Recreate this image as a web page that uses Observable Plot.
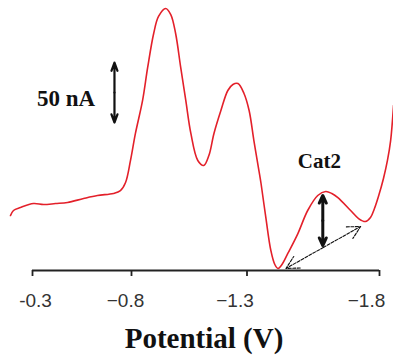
<!DOCTYPE html>
<html><head><meta charset="utf-8">
<script src="https://cdn.jsdelivr.net/npm/d3@7"></script>
<script src="https://cdn.jsdelivr.net/npm/@observablehq/plot@0.6"></script>
<style>body{margin:0;background:#fff;} svg{display:block;}</style>
</head><body><div id="chart"></div>
<script>
// Potential (V) and current (nA, relative to baseline)
const potential = [-0.189,-0.204,-0.239,-0.305,-0.356,-0.416,-0.477,-0.558,-0.628,-0.709,-0.744,-0.770,-0.795,-0.817,-0.848,-0.870,-0.896,-0.917,-0.948,-0.970,-0.991,-1.013,-1.035,-1.057,-1.087,-1.113,-1.135,-1.157,-1.187,-1.217,-1.239,-1.261,-1.287,-1.308,-1.326,-1.345,-1.353,-1.371,-1.390,-1.405,-1.417,-1.432,-1.454,-1.492,-1.529,-1.567,-1.597,-1.620,-1.643,-1.691,-1.721,-1.747,-1.766,-1.781,-1.796,-1.815,-1.830,-1.842,-1.853];
const current   = [45.8,50,52.5,55.8,55,55.8,56.7,60,62.5,64.2,66.5,73.3,91.7,114.2,141.7,169.2,197.5,211.7,218.3,213.3,197.5,169.2,141.7,114.2,91.7,87.5,95.8,114.2,133.3,150,155,155.8,147.5,133.3,108.3,83.3,72.5,44.2,16.7,5,1.7,5,14.2,30.8,50,62.5,65.8,64.2,60.8,50,43.3,40.8,44.2,51.7,61.7,76.7,91.7,108.3,137.5];

const tickValues = [-0.3, -0.8, -1.3, -1.8];
const tickLabels = ["-0.3", "\u22120.8", "\u22121.3", "\u22121.8"];
const axisTitle = "Potential (V)";

// annotations (data coordinates)
const scaleBarPotential = -0.714;
const scaleBarCurrents = [123.3, 173.3];   // 50 nA
const scaleBarLabel = {text: "50 nA", potential: -0.469, current: 143.3};
const cat2Label = {text: "Cat2", potential: -1.573, current: 90.8};
const cat2ArrowPotential = -1.586;
const cat2ArrowCurrents = [20.8, 62.5];
const baseArrowPotentials = [-1.447, -1.729];
const baseArrowCurrents = [1.7, 36.7];

const curve = potential.map((p, i) => ({p, c: current[i]}));
const labelNudge = [3, -6, -12, -13];

function halfArrows(x1, y1, x2, y2) {
  const mx = (x1 + x2) / 2, my = (y1 + y2) / 2;
  return [{x1: mx, y1: my, x2: x1, y2: y1}, {x1: mx, y1: my, x2: x2, y2: y2}];
}

const serif = "'Liberation Serif', 'Times New Roman', serif";

const chart = Plot.plot({
  width: 393,
  height: 361,
  marginLeft: 0, marginRight: 0, marginTop: 0, marginBottom: 91,
  style: {background: "#fff", overflow: "visible"},
  x: {type: "linear", domain: tickValues, range: [32, 131, 246.5, 379], axis: null},
  y: {type: "linear", domain: [0, 225], axis: null},
  marks: [
    Plot.ruleY([0], {x1: tickValues[0], x2: tickValues[tickValues.length - 1], stroke: "#222", strokeWidth: 1.8}),
    Plot.axisX(tickValues, {tickSize: 6, tickFormat: () => "", stroke: "#222", strokeWidth: 1.8}),
    ...tickValues.map((t, i) => Plot.text([t], {
      x: d => d, y: 0, text: () => tickLabels[i], dy: 30, dx: labelNudge[i],
      fontSize: 19, fontFamily: "'Liberation Sans', Arial, sans-serif", fill: "#333", lineAnchor: "middle"
    })),
    Plot.text([axisTitle], {frameAnchor: "bottom", text: d => d, dx: 7, dy: 68, lineAnchor: "middle",
      fontSize: 29, fontWeight: "bold", fontFamily: serif, fill: "#111"}),
    Plot.line(curve, {x: "p", y: "c", stroke: "#e3202a", strokeWidth: 1.6, curve: "catmull-rom"}),
    // 50 nA scale bar
    Plot.arrow(halfArrows(scaleBarPotential, scaleBarCurrents[0], scaleBarPotential, scaleBarCurrents[1]),
      {x1: "x1", y1: "y1", x2: "x2", y2: "y2", stroke: "#111", strokeWidth: 2.2, headAngle: 40, headLength: 6}),
    Plot.text([scaleBarLabel], {x: "potential", y: "current", text: "text", fontSize: 23, fontWeight: "bold", fontFamily: serif, fill: "#111", lineAnchor: "middle"}),
    // Cat2 label and peak height arrow
    Plot.text([cat2Label], {x: "potential", y: "current", text: "text", fontSize: 21, fontWeight: "bold", fontFamily: serif, fill: "#111", lineAnchor: "middle"}),
    Plot.arrow(halfArrows(cat2ArrowPotential, cat2ArrowCurrents[0], cat2ArrowPotential, cat2ArrowCurrents[1]),
      {x1: "x1", y1: "y1", x2: "x2", y2: "y2", stroke: "#111", strokeWidth: 3, headAngle: 50, headLength: 6}),
    // dashed baseline arrow
    Plot.arrow(halfArrows(baseArrowPotentials[0], baseArrowCurrents[0], baseArrowPotentials[1], baseArrowCurrents[1]),
      {x1: "x1", y1: "y1", x2: "x2", y2: "y2", stroke: "#111", strokeWidth: 1.1, headAngle: 55, headLength: 22, strokeDasharray: "3,1.5"})
  ]
});
document.getElementById("chart").appendChild(chart);
</script>
</body></html>
